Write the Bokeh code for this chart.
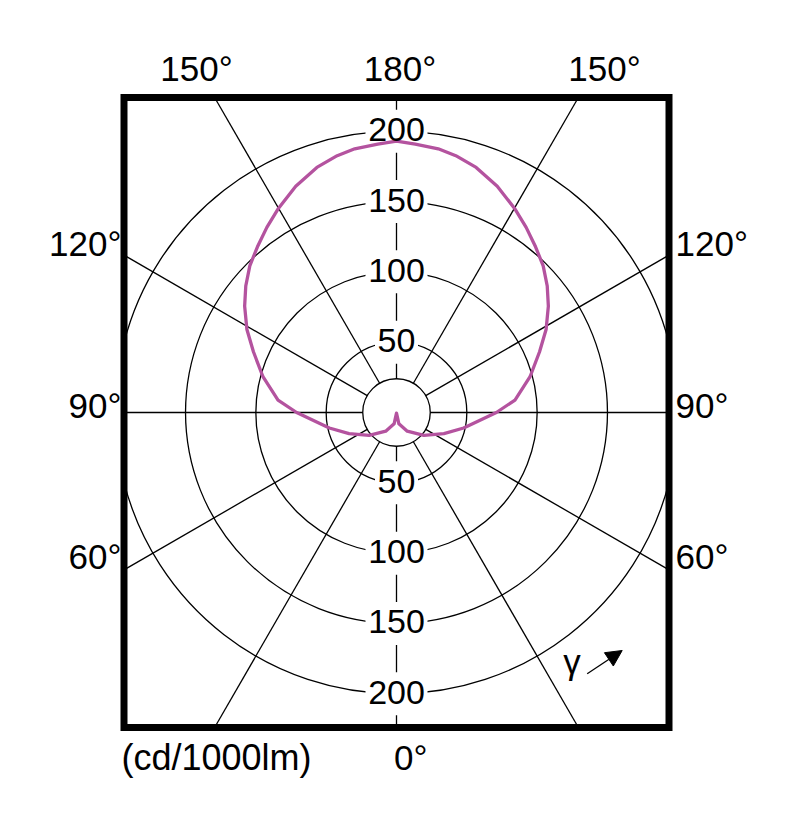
import numpy as np
from bokeh.plotting import figure
from bokeh.models import Range1d, Arrow, NormalHead
from bokeh.core.properties import value
from bokeh.embed import file_html
from bokeh.resources import INLINE

# ---- data (symmetric C-plane) ----
gamma_deg = [0, 12, 30, 50, 66, 77, 90, 96, 105, 113, 119, 125, 130, 135, 140, 145,
             150, 156, 162, 167, 171, 176, 180]
intensity = [0.5, 8.2, 15.3, 25.4, 36.9, 49, 71, 84.7, 98.3, 110.5, 121.6, 131.8, 139.9,
             147.5, 153.8, 160.7, 167.7, 176.1, 183.2, 187.4, 189.8, 191.3, 193]

ring_values = [24, 50, 100, 150, 200]
ring_labels = [50, 100, 150, 200]
spoke_deg = [0, 30, 60, 90, 120, 150, 180, 210, 240, 270, 300, 330]

top_labels = ["150°", "180°", "150°"]
left_labels = ["120°", "90°", "60°"]
right_labels = ["120°", "90°", "60°"]
unit_label = "(cd/1000lm)"
zero_label = "0°"
gamma_label = "γ"

# ---- geometry ----
K = 1.4065            # px per cd/klm
FONT = "Liberation Sans"
W, H = 790, 812       # canvas size
CX, CY = 396, 412     # pole position on the canvas (px)
TXT_DY = 12.5         # baseline correction (px)

p = figure(frame_width=W, frame_height=H,
           x_range=Range1d(-CX / K, (W - CX) / K), y_range=Range1d(-(H - CY) / K, CY / K),
           output_backend="svg", toolbar_location=None,
           x_axis_type=None, y_axis_type=None, min_border=0,
           background_fill_color="white", border_fill_color="white")
p.outline_line_color = None

def px2x(px):
    return (px - CX) / K

def py2y(py):
    return (CY - py) / K

# frame box (page px): left 123.5, right 668.5, top 97, bottom 727
bx0, bx1, by0, by1 = px2x(123.5), px2x(668.5), py2y(727), py2y(97)
half_w = min(abs(bx0), bx1)

# rings (clipped to the frame box)
for r in ring_values:
    if r <= half_w:
        p.arc(x=0, y=0, radius=r, start_angle=0, end_angle=2 * np.pi,
              line_color="black", line_width=1.3)
    else:
        a = np.arccos(half_w / r)
        p.arc(x=[0, 0], y=[0, 0], radius=r, start_angle=[a, np.pi + a],
              end_angle=[np.pi - a, 2 * np.pi - a], line_color="black", line_width=1.3)

# spokes, clipped to the box
r_in = ring_values[0]
x0s, y0s, x1s, y1s = [], [], [], []
for d in spoke_deg:
    t = np.radians(d)
    sx, sy = np.sin(t), -np.cos(t)
    lims = []
    if abs(sx) > 1e-9:
        lims.append((bx1 if sx > 0 else -bx0) / abs(sx))
    if abs(sy) > 1e-9:
        lims.append((by1 if sy > 0 else -by0) / abs(sy))
    r_out = min(lims)
    x0s.append(r_in * sx); y0s.append(r_in * sy)
    x1s.append(r_out * sx); y1s.append(r_out * sy)
p.segment(x0=x0s, y0=y0s, x1=x1s, y1=y1s, line_color="black", line_width=1.3)

# white backgrounds behind ring labels
lab_y = [v for v in ring_labels] + [-v for v in ring_labels]
lab_t = [str(v) for v in ring_labels] * 2
lab_w = [len(t) * 19 + 5 for t in lab_t]
p.rect(x=[0] * len(lab_y), y=lab_y, width=lab_w, height=43,
       width_units="screen", height_units="screen",
       fill_color="white", line_color=None)

# intensity curve
g = np.radians(gamma_deg)
I = np.array(intensity)
xr = I * np.sin(g)
yr = -I * np.cos(g)
xs = np.concatenate([-xr[::-1], xr[1:]])
ys = np.concatenate([yr[::-1], yr[1:]])
p.line(xs, ys, line_color="#b4539f", line_width=3.3, line_join="round")

# frame box
p.rect(x=[(bx0 + bx1) / 2], y=[(by0 + by1) / 2], width=[bx1 - bx0], height=[by1 - by0],
       fill_color=None, line_color="black", line_width=7, line_join="miter")

# ring label texts (centred on the ring crossings)
p.text(x=[0] * len(lab_y), y=[y + 1.5 / K for y in lab_y], text=lab_t,
       text_font=value(FONT), text_font_size="34px", text_color="black",
       text_align="center", text_baseline="alphabetic")

def add_texts(pxs, pys, texts, align, size="35px"):
    p.text(x=[px2x(v) for v in pxs], y=[py2y(v - TXT_DY) for v in pys], text=texts,
           text_font=value(FONT), text_font_size=size, text_color="black",
           text_align=align, text_baseline="alphabetic")

add_texts([196, 399.5, 604], [80, 80, 80], top_labels, "center")
add_texts([121, 121, 121], [255, 417.3, 568], left_labels, "right")
add_texts([675, 675, 675], [255, 417.3, 568], right_labels, "left")
add_texts([121], [769.3], [unit_label], "left", "36px")
add_texts([393.5], [769.3], [zero_label], "left")
add_texts([571.5], [673.2], [gamma_label], "center")

p.add_layout(Arrow(end=NormalHead(size=16, fill_color="black", line_color="black"),
                   x_start=px2x(586.7), y_start=py2y(673.3),
                   x_end=px2x(621.7), y_end=py2y(650),
                   line_color="black", line_width=1.3))

open("out.html", "w").write(file_html(p, INLINE))
